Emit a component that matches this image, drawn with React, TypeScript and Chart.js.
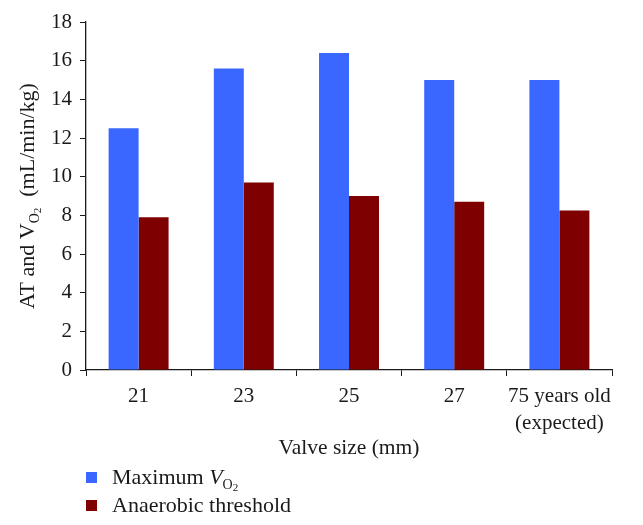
import React, { useEffect, useRef } from "react";
import { Chart, registerables } from "chart.js";

Chart.register(...registerables);

const categories: (string | string[])[] = ["21", "23", "25", "27", ["75 years old", "(expected)"]];
const maxVO2 = [12.5, 15.6, 16.4, 15.0, 15.0];
const anaerobicThreshold = [7.9, 9.7, 9.0, 8.7, 8.25];
const yTicks = { min: 0, max: 18, step: 2 };

const FONT = "'Liberation Serif', 'Times New Roman', serif";
const BLUE = "#3a67ff";
const RED = "#7f0000";
const INK = "#1a1a1a";

type Part = { text: string; size: number; italic?: boolean; dy?: number };

function partFont(p: Part) {
  return `${p.italic ? "italic " : ""}${p.size}px ${FONT}`;
}

function drawParts(ctx: CanvasRenderingContext2D, parts: Part[], x: number, y: number, align: "left" | "center") {
  let total = 0;
  for (const p of parts) {
    ctx.font = partFont(p);
    total += ctx.measureText(p.text).width;
  }
  let cx = align === "center" ? x - total / 2 : x;
  ctx.textAlign = "left";
  ctx.textBaseline = "alphabetic";
  for (const p of parts) {
    ctx.font = partFont(p);
    ctx.fillText(p.text, cx, y + (p.dy || 0));
    cx += ctx.measureText(p.text).width;
  }
}

const annotations = {
  id: "annotations",
  afterDraw(chart: any) {
    const ctx: CanvasRenderingContext2D = chart.ctx;
    const area = chart.chartArea;
    ctx.save();
    ctx.fillStyle = INK;
    // Y-axis title
    ctx.save();
    ctx.translate(0, (area.top + area.bottom) / 2);
    ctx.rotate(-Math.PI / 2);
    drawParts(
      ctx,
      [
        { text: "AT and V", size: 22 },
        { text: "O", size: 14, dy: 5 },
        { text: "2", size: 11, dy: 7 },
        { text: "  (mL/min/kg)", size: 22 },
      ],
      0,
      34,
      "center"
    );
    ctx.restore();
    // X-axis title
    ctx.fillStyle = INK;
    drawParts(ctx, [{ text: "Valve size (mm)", size: 21.5 }], (area.left + area.right) / 2, 454, "center");
    // Legend
    const items = [
      { color: BLUE, parts: [{ text: "Maximum ", size: 22 }, { text: "V", size: 22, italic: true }, { text: "O", size: 14, dy: 5 }, { text: "2", size: 11, dy: 7 }] as Part[] },
      { color: RED, parts: [{ text: "Anaerobic threshold", size: 22 }] as Part[] },
    ];
    items.forEach((it, i) => {
      const base = 484 + i * 28;
      ctx.fillStyle = it.color;
      ctx.fillRect(86, base - 12, 11, 11);
      ctx.fillStyle = INK;
      drawParts(ctx, it.parts, 112, base, "left");
    });
    ctx.restore();
  },
};

export default function App() {
  const ref = useRef<HTMLCanvasElement>(null);
  useEffect(() => {
    document.body.style.margin = "0";
    const chart = new Chart(ref.current!, {
      type: "bar",
      data: {
        labels: categories,
        datasets: [
          { label: "Maximum VO2", data: maxVO2, backgroundColor: BLUE },
          { label: "Anaerobic threshold", data: anaerobicThreshold, backgroundColor: RED },
        ],
      },
      options: {
        responsive: false,
        animation: false,
        layout: { padding: { left: 0, top: 22, right: 31, bottom: 0 } },
        datasets: { bar: { categoryPercentage: 0.57, barPercentage: 1.0 } },
        plugins: { legend: { display: false }, tooltip: { enabled: false } },
        scales: {
          x: {
            grid: { drawOnChartArea: false, drawTicks: true, tickLength: 6, color: INK, offset: true },
            border: { color: INK, width: 1.3 },
            ticks: { color: INK, font: { family: FONT, size: 21, lineHeight: 1.3 }, padding: 7, maxRotation: 0, autoSkip: false },
            afterFit: (s: any) => { s.height = 155; },
          },
          y: {
            min: yTicks.min,
            max: yTicks.max,
            grid: { drawOnChartArea: false, drawTicks: true, tickLength: 6, color: INK },
            border: { color: INK, width: 1.3 },
            ticks: { stepSize: yTicks.step, color: INK, font: { family: FONT, size: 21 }, padding: 8 },
            afterFit: (s: any) => { s.width = 86; },
          },
        },
      },
      plugins: [annotations],
    });
    return () => chart.destroy();
  }, []);
  return <canvas ref={ref} width={643} height={525} style={{ display: "block" }} />;
}
